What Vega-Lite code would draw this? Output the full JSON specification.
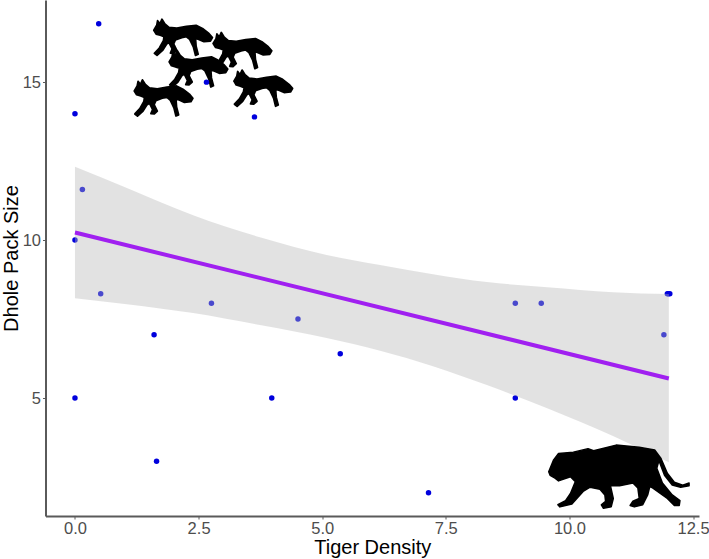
{
  "$schema": "https://vega.github.io/schema/vega-lite/v6.json",
  "width": 653.5,
  "height": 516,
  "autosize": "none",
  "padding": {"left": 45.5, "top": 0, "right": 10, "bottom": 43},
  "background": "white",
  "datasets": {
    "sightings": [
      {"density": 0.48, "pack": 16.85},
      {"density": 0, "pack": 14},
      {"density": 2.66, "pack": 15},
      {"density": 3.63, "pack": 13.9},
      {"density": 0.15, "pack": 11.6},
      {"density": 0, "pack": 10},
      {"density": 0.52, "pack": 8.3},
      {"density": 2.76, "pack": 8},
      {"density": 4.51, "pack": 7.5},
      {"density": 1.6, "pack": 7},
      {"density": 5.365, "pack": 6.4},
      {"density": 0, "pack": 5},
      {"density": 3.98, "pack": 5},
      {"density": 1.65, "pack": 3},
      {"density": 7.15, "pack": 2},
      {"density": 8.905, "pack": 8},
      {"density": 9.43, "pack": 8},
      {"density": 8.905, "pack": 5},
      {"density": 11.91, "pack": 7},
      {"density": 11.98, "pack": 8.3},
      {"density": 12.0, "pack": 8.3},
      {"density": 12.03, "pack": 8.3}
    ],
    "band": [
      {"density": 0, "upper": 12.32, "lower": 8.16},
      {"density": 1.05, "upper": 11.65, "lower": 7.97},
      {"density": 2.39, "upper": 10.79, "lower": 7.69},
      {"density": 3.74, "upper": 10.09, "lower": 7.31},
      {"density": 5.09, "upper": 9.53, "lower": 6.9},
      {"density": 6.17, "upper": 9.21, "lower": 6.5},
      {"density": 7.24, "upper": 8.92, "lower": 6.01},
      {"density": 8.33, "upper": 8.67, "lower": 5.41},
      {"density": 9.55, "upper": 8.51, "lower": 4.68},
      {"density": 10.88, "upper": 8.35, "lower": 3.8},
      {"density": 12.01, "upper": 8.29, "lower": 2.97}
    ],
    "fit": [
      {"density": 0, "pack": 10.24},
      {"density": 12.01, "pack": 5.62}
    ],
    "wolves": [
      {"density": 2.19, "pack": 16.42},
      {"density": 3.39, "pack": 16.0},
      {"density": 2.5, "pack": 15.42},
      {"density": 1.795, "pack": 14.5},
      {"density": 3.81, "pack": 14.81}
    ],
    "tiger": [
      {"density": 11.0, "pack": 2.51}
    ]
  },
  "encoding": {
    "x": {
      "field": "density",
      "type": "quantitative",
      "title": "Tiger Density",
      "scale": {"domain": [-0.596, 12.62], "nice": false, "zero": false},
      "axis": {"values": [0, 2.5, 5, 7.5, 10, 12.5], "format": ".1f"}
    },
    "y": {
      "field": "pack",
      "type": "quantitative",
      "title": "Dhole Pack Size",
      "scale": {"domain": [1.266, 17.6], "nice": false, "zero": false},
      "axis": {"values": [5, 10, 15], "format": "d"}
    }
  },
  "layer": [
    {
      "data": {"name": "wolves"},
      "mark": {
        "type": "point",
        "filled": true,
        "color": "black",
        "stroke": "black",
        "strokeWidth": 1.8,
        "strokeJoin": "round",
        "opacity": 1,
        "size": 3400,
        "shape": "M-1.01,-.24L-.91,-.41L-.88,-.57L-.8,-.46L-.73,-.62L-.63,-.46L-.49,-.34L-.22,-.31L.11,-.37L.44,-.41L.66,-.3L.88,-.13L1,.01L.93,.13L.71,.15L.53,.07L.42,.04L.44,.31L.51,.58L.42,.62L.35,.34L.22,.07L.11,-.02L-.05,.01L-.27,.09L-.33,.23L-.22,.45L-.33,.55L-.44,.54L-.38,.4L-.49,.18L-.57,.23L-.71,.45L-.9,.62L-.99,.55L-.82,.37L-.68,.12L-.66,-.02L-.79,-.07L-.93,-.11Z"
      }
    },
    {
      "data": {"name": "sightings"},
      "mark": {"type": "point", "shape": "circle", "filled": true, "size": 30, "color": "#0000dd", "opacity": 1}
    },
    {
      "data": {"name": "band"},
      "mark": {"type": "area", "color": "#b7b7b7", "opacity": 0.4, "interpolate": "monotone"},
      "encoding": {
        "y": {
          "field": "upper",
          "type": "quantitative",
          "title": "Dhole Pack Size",
          "scale": {"domain": [1.266, 17.6], "nice": false, "zero": false},
          "axis": {"values": [5, 10, 15], "format": "d"}
        },
        "y2": {"field": "lower"}
      }
    },
    {
      "data": {"name": "fit"},
      "mark": {"type": "line", "color": "#a020f0", "strokeWidth": 4}
    },
    {
      "data": {"name": "tiger"},
      "mark": {
        "type": "point",
        "filled": true,
        "color": "black",
        "stroke": "black",
        "strokeWidth": 1.5,
        "strokeJoin": "round",
        "opacity": 1,
        "size": 19700,
        "shape": "M-1,-.07L-.93,-.24L-.86,-.33L-.65,-.35L-.44,-.4L-.36,-.37L-.04,-.45L.29,-.42L.51,-.38L.6,-.26L.69,-.05L.79,.08L.91,.12L1,.09L1,.13L.88,.15L.76,.12L.65,-.02L.57,-.23L.54,-.12L.62,.09L.76,.26L.87,.34L.86,.41L.79,.41L.69,.31L.48,.16L.44,.14L.41,.26L.34,.4L.22,.43L.16,.41L.2,.35L.29,.31L.27,.16L.2,.09L.01,.13L-.12,.13L-.08,.31L-.11,.43L-.22,.45L-.25,.4L-.19,.35L-.2,.26L-.27,.18L-.41,.15L-.51,.21L-.67,.39L-.84,.43L-.87,.4L-.76,.34L-.69,.24L-.62,.07L-.69,0L-.86,.06L-.91,.02L-.98,-.02Z"
      }
    }
  ],
  "config": {
    "view": {"stroke": null},
    "font": "Liberation Sans",
    "axis": {
      "grid": false,
      "domainColor": "#5a5a5a",
      "domainWidth": 2,
      "tickColor": "#5a5a5a",
      "tickSize": 3,
      "tickWidth": 1,
      "labelColor": "#4d4d4d",
      "labelFontSize": 16.5,
      "labelFont": "Liberation Sans",
      "titleColor": "black",
      "titleFontSize": 20,
      "titleFont": "Liberation Sans",
      "titleFontWeight": "normal"
    },
    "axisX": {"labelPadding": 1, "titlePadding": 1},
    "axisY": {"labelPadding": 2, "titlePadding": 1}
  }
}
